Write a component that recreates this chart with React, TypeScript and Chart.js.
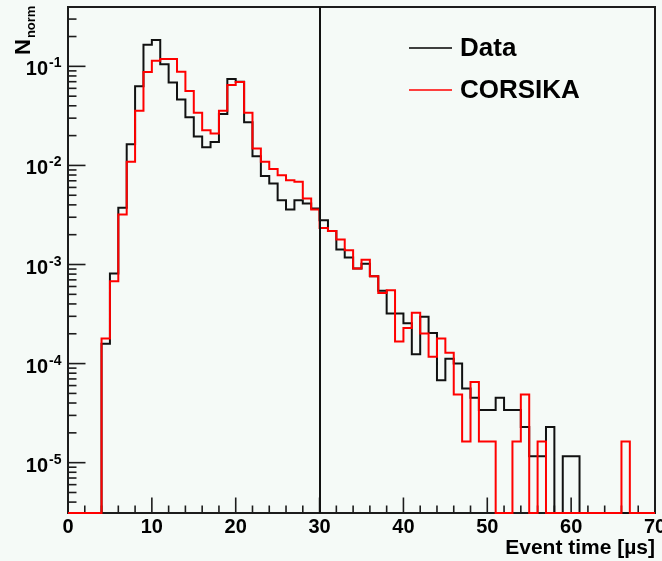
import { useEffect, useRef } from "react";
import { Chart, registerables } from "chart.js";

Chart.register(...registerables);

// ---- data (1 µs bins, bin i covers [i, i+1)) ----
const binStarts: number[] = Array.from({ length: 70 }, (_, i) => i);

const dataValues: number[] = [
  0, 0, 0, 0, 1.59e-4, 8.1e-4, 3.73e-3, 0.0164, 0.0628, 0.165,
  0.1845, 0.1047, 0.0689, 0.0464, 0.0306, 0.0196, 0.0153, 0.0172, 0.033, 0.0744,
  0.0699, 0.0272, 0.0124, 7.8e-3, 6.58e-3, 4.46e-3, 3.6e-3, 4.46e-3, 4.13e-3, 3.68e-3,
  2.8e-3, 2.18e-3, 1.42e-3, 1.18e-3, 9.12e-4, 1.02e-3, 7.62e-4, 5.43e-4, 3.2e-4, 3.2e-4,
  2.55e-4, 1.24e-4, 2.97e-4, 2.04e-4, 6.78e-5, 1.12e-4, 1.0e-4, 5.59e-5, 4.52e-5, 3.41e-5,
  3.41e-5, 4.52e-5, 3.41e-5, 3.41e-5, 2.29e-5, 1.16e-5, 1.16e-5, 2.29e-5, 0, 1.16e-5,
  1.16e-5, 0, 0, 0, 0, 0, 0, 0, 0, 0,
];

const corsikaValues: number[] = [
  0, 0, 0, 0, 1.79e-4, 6.78e-4, 3.2e-3, 0.01087, 0.0356, 0.0875,
  0.114, 0.1186, 0.1186, 0.0882, 0.0564, 0.034, 0.0227, 0.021, 0.0356, 0.0647,
  0.0694, 0.034, 0.01485, 0.01087, 9.18e-3, 7.98e-3, 7.1e-3, 6.83e-3, 4.64e-3, 3.6e-3,
  2.34e-3, 2.18e-3, 1.79e-3, 1.39e-3, 9.12e-4, 1.12e-3, 7.62e-4, 5.16e-4, 5.5e-4, 1.67e-4,
  2.29e-4, 3.26e-4, 2.01e-4, 1.17e-4, 1.79e-4, 1.29e-4, 4.87e-5, 1.64e-5, 6.52e-5, 1.64e-5,
  1.64e-5, 0, 0, 1.64e-5, 4.87e-5, 0, 1.64e-5, 0, 0, 0,
  0, 0, 0, 0, 0, 0, 1.64e-5, 0, 0, 0,
];

const seriesNames = ["Data", "CORSIKA"];
const xTickValues = [0, 10, 20, 30, 40, 50, 60, 70];
const yTickExponents = [-1, -2, -3, -4, -5];
const cutTime = 30;

const X_MIN = 0;
const X_MAX = 70;
const Y_MIN = Math.pow(10, -5.508);
const Y_MAX = Math.pow(10, -0.401);

const BG = "#f5faf7";
const AXIS = "#1c1c1c";
const FONT = "'Liberation Sans', Arial, Helvetica, sans-serif";

function histPoints(values: number[]) {
  const pts = binStarts.map((x, i) => ({ x, y: values[i] > 0 ? values[i] : Y_MIN }));
  const last = values[values.length - 1];
  pts.push({ x: binStarts[binStarts.length - 1] + 1, y: last > 0 ? last : Y_MIN });
  return pts;
}

const rootStyle = {
  id: "rootStyle",
  beforeDraw(chart: any) {
    const ctx = chart.ctx;
    ctx.save();
    ctx.fillStyle = BG;
    ctx.fillRect(0, 0, chart.width, chart.height);
    ctx.restore();
  },
  beforeDatasetsDraw(chart: any) {
    const ctx = chart.ctx;
    const { left, right, top, bottom } = chart.chartArea;
    const xs = chart.scales.x;
    const ys = chart.scales.y;
    ctx.save();
    ctx.strokeStyle = AXIS;
    ctx.lineWidth = 2;
    // frame
    ctx.beginPath();
    ctx.moveTo(left, top);
    ctx.lineTo(right, top);
    ctx.lineTo(right, bottom);
    ctx.lineTo(left, bottom);
    ctx.closePath();
    ctx.stroke();

    // x ticks
    ctx.lineWidth = 1.6;
    for (let v = X_MIN; v <= X_MAX; v += 2) {
      const px = xs.getPixelForValue(v);
      const len = v % 10 === 0 ? 15.5 : 7.5;
      ctx.beginPath();
      ctx.moveTo(px, bottom);
      ctx.lineTo(px, bottom - len);
      ctx.stroke();
    }
    // y ticks
    for (let e = -6; e <= 0; e++) {
      for (let k = 1; k <= 9; k++) {
        const v = k * Math.pow(10, e);
        if (v < Y_MIN || v > Y_MAX) continue;
        const py = ys.getPixelForValue(v);
        const len = k === 1 ? 17.5 : 8.5;
        ctx.beginPath();
        ctx.moveTo(left, py);
        ctx.lineTo(left + len, py);
        ctx.stroke();
      }
    }

    // x tick labels
    ctx.fillStyle = "#000";
    ctx.font = `bold 20px ${FONT}`;
    ctx.textAlign = "center";
    ctx.textBaseline = "alphabetic";
    xTickValues.forEach((v) => {
      ctx.fillText(String(v), xs.getPixelForValue(v), 533);
    });

    // y tick labels 10^e
    yTickExponents.forEach((e) => {
      const py = ys.getPixelForValue(Math.pow(10, e));
      ctx.font = `bold 20px ${FONT}`;
      ctx.textAlign = "right";
      ctx.fillText("10", 48, py + 9);
      ctx.font = `bold 14px ${FONT}`;
      ctx.textAlign = "left";
      ctx.fillText(`-${Math.abs(e)}`, 49, py + 1);
    });

    // x axis title
    ctx.font = `bold 21px ${FONT}`;
    ctx.textAlign = "right";
    ctx.fillText("Event time [\u00b5s]", right, 554);

    // y axis title N_norm (rotated)
    ctx.save();
    ctx.translate(30, 55);
    ctx.rotate(-Math.PI / 2);
    ctx.textAlign = "left";
    ctx.font = `bold 22px ${FONT}`;
    ctx.fillText("N", 0, 0);
    const wN = ctx.measureText("N").width;
    ctx.font = `bold 13px ${FONT}`;
    ctx.fillText("norm", wN + 1, 5);
    ctx.restore();

    ctx.restore();
  },
  afterDatasetsDraw(chart: any) {
    const ctx = chart.ctx;
    const { top, bottom } = chart.chartArea;
    const xs = chart.scales.x;
    ctx.save();
    // cut line
    const cx = Math.round(xs.getPixelForValue(cutTime));
    ctx.strokeStyle = "#111";
    ctx.lineWidth = 2;
    ctx.beginPath();
    ctx.moveTo(cx, top);
    ctx.lineTo(cx, bottom);
    ctx.stroke();

    // legend
    const entries = [
      { name: seriesNames[0], color: "#000", y: 48 },
      { name: seriesNames[1], color: "#ff0000", y: 90 },
    ];
    entries.forEach((en) => {
      ctx.strokeStyle = en.color;
      ctx.lineWidth = 1.3;
      ctx.beginPath();
      ctx.moveTo(409, en.y);
      ctx.lineTo(452, en.y);
      ctx.stroke();
      ctx.fillStyle = "#000";
      ctx.font = `bold 26px ${FONT}`;
      ctx.textAlign = "left";
      ctx.textBaseline = "middle";
      ctx.fillText(en.name, 460, en.y + 1);
    });
    ctx.restore();
  },
};

export default function App() {
  const ref = useRef<HTMLCanvasElement>(null);
  useEffect(() => {
    const chart = new Chart(ref.current as HTMLCanvasElement, {
      type: "line",
      data: {
        datasets: [
          {
            label: seriesNames[1],
            data: histPoints(corsikaValues),
            borderColor: "#ff0000",
            borderWidth: 2,
            stepped: true,
            pointRadius: 0,
            fill: false,
            clip: false,
            order: 0,
          },
          {
            label: seriesNames[0],
            data: histPoints(dataValues),
            borderColor: "#111111",
            borderWidth: 2,
            stepped: true,
            pointRadius: 0,
            fill: false,
            clip: false,
            order: 1,
          },
        ],
      } as any,
      options: {
        responsive: false,
        animation: false,
        devicePixelRatio: 1,
        events: [],
        parsing: false,
        layout: { padding: { left: 68, top: 7, right: 7, bottom: 48 } },
        plugins: { legend: { display: false }, tooltip: { enabled: false }, title: { display: false } },
        scales: {
          x: { type: "linear", min: X_MIN, max: X_MAX, display: false },
          y: { type: "logarithmic", min: Y_MIN, max: Y_MAX, display: false },
        },
      } as any,
      plugins: [rootStyle],
    });
    return () => chart.destroy();
  }, []);
  return (
    <div style={{ position: "fixed", left: 0, top: 0, width: 662, height: 561, background: BG }}>
      <canvas ref={ref} width={662} height={561} style={{ display: "block", width: 662, height: 561 }} />
    </div>
  );
}
